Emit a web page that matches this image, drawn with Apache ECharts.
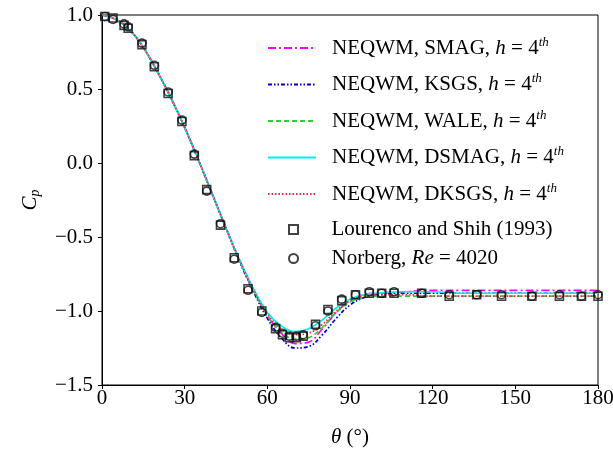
<!DOCTYPE html>
<html><head><meta charset="utf-8">
<script src="https://cdn.jsdelivr.net/npm/echarts@6/dist/echarts.min.js"></script>
<style>html,body{margin:0;padding:0;background:#fff}#c{width:613px;height:450px}</style>
</head><body><div id="c"></div>
<script>
var thetaLine = [0,5,10,15,20,25,30,35,40,45,50,55,60,65,70,75,80,85,90,95,100,110,120,130,140,150,160,170,180];
var smag  = [1.0,0.97,0.90,0.78,0.62,0.44,0.24,0.02,-0.21,-0.44,-0.66,-0.86,-1.03,-1.15,-1.22,-1.21,-1.12,-1.01,-0.93,-0.89,-0.88,-0.87,-0.86,-0.86,-0.86,-0.86,-0.86,-0.86,-0.86];
var ksgs  = [1.0,0.97,0.90,0.78,0.62,0.44,0.24,0.02,-0.21,-0.44,-0.67,-0.87,-1.05,-1.18,-1.25,-1.24,-1.16,-1.05,-0.96,-0.91,-0.89,-0.88,-0.88,-0.88,-0.88,-0.88,-0.88,-0.88,-0.88];
var wale  = [1.0,0.97,0.90,0.78,0.62,0.44,0.24,0.02,-0.21,-0.44,-0.66,-0.86,-1.03,-1.14,-1.19,-1.18,-1.11,-1.01,-0.94,-0.91,-0.90,-0.90,-0.90,-0.90,-0.90,-0.90,-0.90,-0.90,-0.90];
var dsmag = [1.0,0.97,0.90,0.78,0.62,0.44,0.24,0.02,-0.21,-0.44,-0.66,-0.85,-1.01,-1.10,-1.14,-1.12,-1.06,-0.98,-0.92,-0.89,-0.88,-0.87,-0.87,-0.88,-0.88,-0.88,-0.88,-0.88,-0.88];
var dksgs = [1.0,0.97,0.90,0.78,0.62,0.44,0.24,0.02,-0.21,-0.44,-0.66,-0.86,-1.02,-1.12,-1.16,-1.15,-1.09,-1.00,-0.93,-0.90,-0.89,-0.89,-0.90,-0.90,-0.90,-0.90,-0.90,-0.90,-0.90];
var thetaExp = [1,4,8,9.5,14.5,19,24,29,33.5,38,43,48,53,58,63,65.5,68,70.5,73,77.5,82,87,92,97,101.5,106,116,126,136,145,156,166,174,180];
var lourenco = [0.99,0.98,0.93,0.91,0.80,0.65,0.47,0.28,0.05,-0.18,-0.42,-0.64,-0.85,-1.00,-1.12,-1.16,-1.18,-1.18,-1.17,-1.09,-0.99,-0.93,-0.89,-0.88,-0.88,-0.88,-0.88,-0.90,-0.89,-0.90,-0.90,-0.90,-0.90,-0.90];
var norberg  = [0.99,0.97,0.94,0.92,0.81,0.66,0.48,0.29,0.06,-0.19,-0.41,-0.65,-0.86,-1.01,-1.11,-1.15,-1.17,-1.17,-1.16,-1.10,-1.00,-0.92,-0.89,-0.87,-0.88,-0.87,-0.88,-0.89,-0.89,-0.89,-0.90,-0.89,-0.90,-0.89];
var xTicks = [0,30,60,90,120,150,180];
var yTicks = [-1.5,-1.0,-0.5,0.0,0.5,1.0];
var lineNames = ['SMAG','KSGS','WALE','DSMAG','DKSGS'];
var expNames = ['Lourenco and Shih (1993)','Norberg, Re = 4020'];

function zip(a,b){return a.map(function(v,i){return [v,b[i]];});}
var FONT = 'Liberation Serif';
var FS = 21;
var chart = echarts.init(document.getElementById('c'));
function lineSeries(name, data, color, type){
  return {name:name, type:'line', data:zip(thetaLine,data), smooth:0.4, symbol:'none',
    lineStyle:{color:color, width:1.7, type:type}, itemStyle:{color:color}, z:3};
}
var rich = {
  i:{fontFamily:FONT, fontSize:FS, fontStyle:'italic', color:'#000'},
  sup:{fontFamily:FONT, fontSize:13, fontStyle:'italic', color:'#000', padding:[0,0,11,0]}
};
function legendLabel(n){
  if (lineNames.indexOf(n) >= 0) return 'NEQWM, ' + n + ', {i|h} = 4{sup|th}';
  if (n === expNames[1]) return 'Norberg, {i|Re} = 4020';
  return n;
}
chart.setOption({
  animation:false,
  backgroundColor:'#fff',
  grid:{left:102, right:15, top:15, bottom:65, show:true, borderColor:'#000', borderWidth:1, outerBoundsMode:'none', containLabel:false},
  xAxis:{type:'value', min:xTicks[0], max:xTicks[xTicks.length-1], interval:30,
    name:'{i|θ} (°)', nameLocation:'middle', nameGap:42,
    nameTextStyle:{fontFamily:FONT, fontSize:FS, color:'#000', rich:rich},
    axisLine:{onZero:false, lineStyle:{color:'#000', width:1}}, axisTick:{show:true, length:4, inside:false, lineStyle:{color:'#000'}},
    axisLabel:{fontFamily:FONT, fontSize:FS, color:'#000', margin:3}, splitLine:{show:false}},
  yAxis:{type:'value', min:yTicks[0], max:yTicks[yTicks.length-1], interval:0.5,
    name:'{i|C}{sub|p}', nameLocation:'middle', nameGap:60,
    nameTextStyle:{fontFamily:FONT, fontSize:FS, color:'#000', rich:{
      i:{fontFamily:FONT, fontSize:FS, fontStyle:'italic', color:'#000'},
      sub:{fontFamily:FONT, fontSize:14, fontStyle:'italic', color:'#000', padding:[10,0,0,0]}}},
    axisLine:{onZero:false, lineStyle:{color:'#000', width:1}}, axisTick:{show:true, length:4, lineStyle:{color:'#000'}},
    axisLabel:{fontFamily:FONT, fontSize:FS, color:'#000', margin:9,
      formatter:function(v){return (v<0?'\u2212':'')+Math.abs(v).toFixed(1);}}, splitLine:{show:false}},
  legend:[
    {orient:'vertical', left:262, top:31, itemWidth:48, itemHeight:14, itemGap:14,
      textStyle:{fontFamily:FONT, fontSize:FS, color:'#000', rich:rich, padding:[0,0,0,11]}, formatter:legendLabel,
      data:lineNames.map(function(n){return {name:n, itemStyle:{opacity:0}};})},
    {orient:'vertical', left:283, top:214, itemWidth:20, itemHeight:9, itemGap:8,
      textStyle:{fontFamily:FONT, fontSize:FS, color:'#000', rich:rich, padding:[0,0,0,23]}, formatter:legendLabel,
      data:[{name:expNames[0], icon:'path://M0,0L10,0L10,10L0,10Z'}, {name:expNames[1], icon:'circle'}]}
  ],
  series:[
    lineSeries('SMAG', smag, '#ff00ff', [8,3,2,3]),
    lineSeries('KSGS', ksgs, '#0000cc', [4,2,1.5,2,1.5,2]),
    lineSeries('WALE', wale, '#33cc33', [5,3]),
    lineSeries('DSMAG', dsmag, '#00eeee', 'solid'),
    lineSeries('DKSGS', dksgs, '#ff2244', [1.5,2]),
    {name:expNames[0], type:'scatter', data:zip(thetaExp,lourenco), symbol:'rect', symbolSize:8,
      itemStyle:{color:'rgba(0,0,0,0)', borderColor:'#111', borderWidth:1.6}, z:5},
    {name:expNames[1], type:'scatter', data:zip(thetaExp,norberg), symbol:'circle', symbolSize:8,
      itemStyle:{color:'rgba(0,0,0,0)', borderColor:'#111', borderWidth:1.6}, z:5}
  ]
});
</script></body></html>
